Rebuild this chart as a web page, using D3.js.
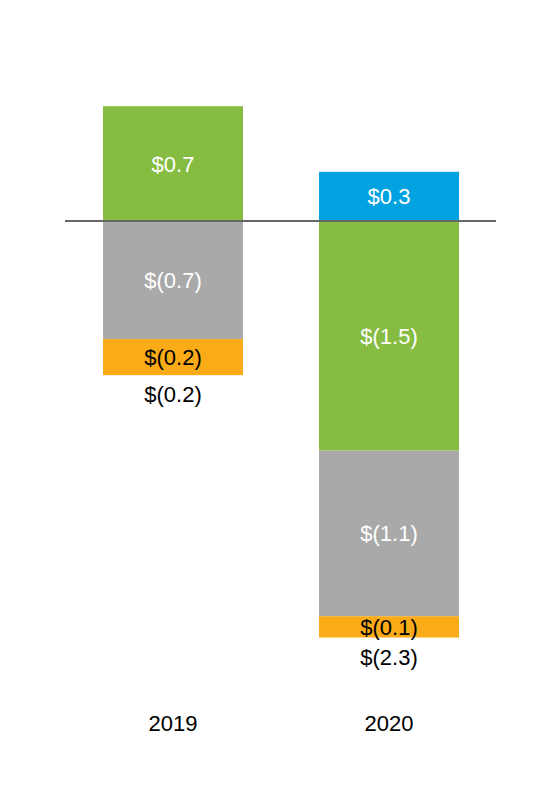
<!DOCTYPE html>
<html><head><meta charset="utf-8">
<script src="https://cdn.jsdelivr.net/npm/d3@7"></script>
<style>body{margin:0;background:#fff}text{font-family:"Liberation Sans",Arial,sans-serif}</style>
</head><body><svg id="c" width="560" height="800"></svg>
<script>
const years = ["2019","2020"];
const segValues = [[0.70,-0.72,-0.22],[0.30,-1.40,-1.01,-0.13]];
const segLabels = [["$0.7","$(0.7)","$(0.2)"],["$0.3","$(1.5)","$(1.1)","$(0.1)"]];
const segColors = [["#86bc42","#a9a9a9","#fbab18"],["#00a3e0","#86bc42","#a9a9a9","#fbab18"]];
const segTextColors = [["#fff","#fff","#000"],["#fff","#fff","#fff","#000"]];
const totals = ["$(0.2)","$(2.3)"];

const svg = d3.select("#c");
const x = d3.scaleBand().domain(years).range([65,497]).paddingInner(0.352).paddingOuter(0.176);
const y = d3.scaleLinear().domain([1,-2]).range([221-164,221+328]);

years.forEach((yr,i)=>{
  let pos=0,neg=0;
  segValues[i].forEach((v,j)=>{
    let y0,y1;
    if(v>=0){y0=pos;y1=pos+v;pos=y1;} else {y0=neg;y1=neg+v;neg=y1;}
    const top=y(Math.max(y0,y1)), bot=y(Math.min(y0,y1));
    svg.append("rect").attr("x",x(yr)).attr("width",x.bandwidth()).attr("y",top).attr("height",bot-top).attr("fill",segColors[i][j]);
    svg.append("text").attr("x",x(yr)+x.bandwidth()/2).attr("y",(top+bot)/2+8).attr("text-anchor","middle")
      .attr("font-size",22).attr("fill",segTextColors[i][j]).text(segLabels[i][j]);
  });
  svg.append("text").attr("x",x(yr)+x.bandwidth()/2).attr("y",y(neg)+27).attr("text-anchor","middle")
    .attr("font-size",22).attr("fill","#000").text(totals[i]);
  svg.append("text").attr("x",x(yr)+x.bandwidth()/2).attr("y",731).attr("text-anchor","middle")
    .attr("font-size",22).attr("fill","#000").text(yr);
});
svg.append("line").attr("x1",65).attr("x2",496).attr("y1",y(0)).attr("y2",y(0)).attr("stroke","#666").attr("stroke-width",2);
</script></body></html>
